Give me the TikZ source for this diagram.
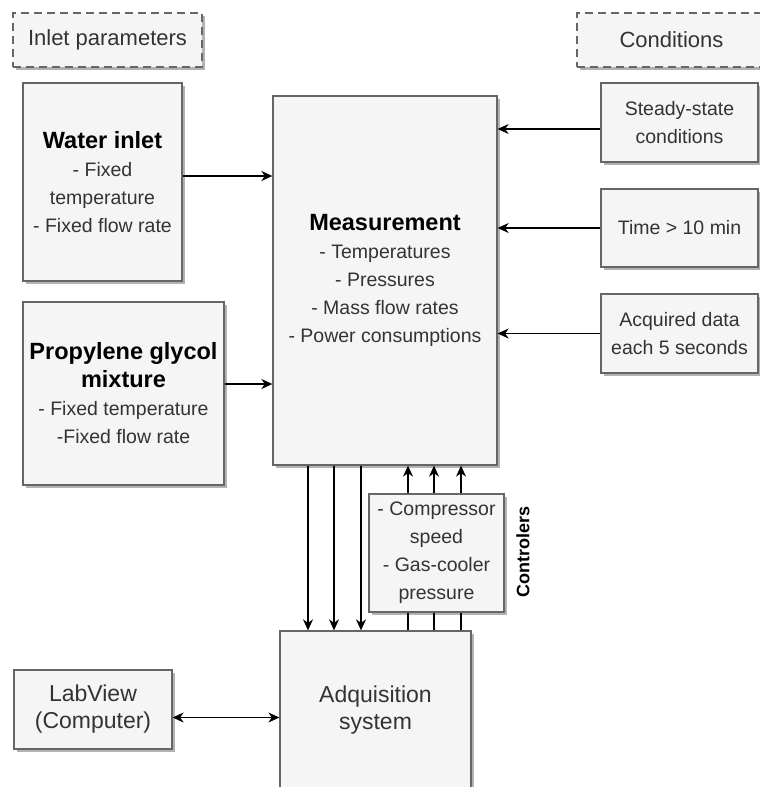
\documentclass[tikz,border=0pt]{standalone}
\usepackage{fontspec}
\setmainfont{Liberation Sans}
\usetikzlibrary{arrows.meta,shadows}
\definecolor{boxfill}{HTML}{F5F5F5}
\definecolor{boxline}{HTML}{666666}
\definecolor{boxtext}{HTML}{333333}
\newcommand{\bodyfont}{\fontsize{19.5}{28}\selectfont}
\newcommand{\titlefont}{\fontsize{23.5}{28}\selectfont\bfseries\color{black}}
\tikzset{
  box/.style={draw=boxline, fill=boxfill, line width=1.3pt, text=boxtext,
    inner sep=0pt, align=center, font=\bodyfont,
    drop shadow={shadow xshift=3pt, shadow yshift=-3pt, opacity=0.3, fill=black}},
  bigbox/.style={box, font=\fontsize{23}{27}\selectfont},
  dashbox/.style={box, dash pattern=on 8pt off 5pt, font=\fontsize{22}{26}\selectfont},
  arr/.style={draw=black, line width=1.2pt, -{Stealth[length=11pt,width=10pt,inset=3.5pt]}},
  dblarr/.style={draw=black, line width=1.2pt, {Stealth[length=11pt,width=10pt,inset=3.5pt]}-{Stealth[length=11pt,width=10pt,inset=3.5pt]}}
}
\begin{document}
\begin{tikzpicture}[x=1pt,y=-1pt]
\fill[white] (0,0) rectangle (760,787);
\useasboundingbox (0,0) rectangle (760,787);

% headers
\node[dashbox, minimum width=189pt, minimum height=54pt] (inlet) at (107.5,40) {Inlet parameters};
\node[dashbox, minimum width=189pt, minimum height=54pt] (cond) at (671.5,40) {Conditions};

% left boxes
\node[box, minimum width=159pt, minimum height=198pt] (water) at (102.5,182)
  {{\titlefont Water inlet}\\- Fixed\\temperature\\- Fixed flow rate};
\node[box, minimum width=201pt, minimum height=183pt] (prop) at (123.5,393.5)
  {{\titlefont Propylene glycol}\\{\titlefont mixture}\\- Fixed temperature\\-Fixed flow rate};

% measurement
\node[box, minimum width=224pt, minimum height=369pt] (meas) at (385,280.5)
  {{\titlefont Measurement}\\- Temperatures\\- Pressures\\- Mass flow rates\\- Power consumptions};

% right boxes
\node[box, minimum width=157pt, minimum height=79pt] (steady) at (679.5,122.5) {Steady-state\\conditions};
\node[box, minimum width=157pt, minimum height=78pt] (time) at (679.5,228) {Time > 10 min};
\node[box, minimum width=157pt, minimum height=79pt] (acq) at (679.5,333.5) {Acquired data\\each 5 seconds};

% acquisition and labview
\node[bigbox, minimum width=191pt, minimum height=158pt] (adq) at (375.5,710) {Adquisition\\system};
\node[bigbox, minimum width=158pt, minimum height=79pt] (lab) at (93,709.5) {LabView\\(Computer)};

% arrows into measurement
\draw[arr] ([yshift=6pt]water.east) -- ([yshift=6pt]water.east -| meas.west);
\draw[arr] ([yshift=9.5pt]prop.east) -- ([yshift=9.5pt]prop.east -| meas.west);
\draw[arr] ([yshift=-6.5pt]steady.west) -- ([yshift=-6.5pt]steady.west -| meas.east);
\draw[arr] (time.west) -- (time.west -| meas.east);
\draw[arr] (acq.west) -- (acq.west -| meas.east);

% measurement to acquisition
\foreach \x in {308,334,361} {
  \draw[arr] (meas.south -| \x,0) -- (adq.north -| \x,0);
}
% acquisition to measurement (through controllers)
\foreach \x in {408,434,461} {
  \draw[arr] (adq.north -| \x,0) -- (meas.south -| \x,0);
}

% controllers box on top
\node[box, minimum width=135pt, minimum height=118pt] (ctrl) at (436.5,553)
  {- Compressor\\speed\\- Gas-cooler\\pressure};
\node[rotate=90, font=\fontsize{18}{20}\selectfont\bfseries, text=black, inner sep=0pt] (ctrllabel) at (523,552) {Controlers};

% labview <-> acquisition
\draw[dblarr] ([yshift=-8pt]lab.east) -- ([yshift=-8pt]lab.east -| adq.west);
\end{tikzpicture}
\end{document}
